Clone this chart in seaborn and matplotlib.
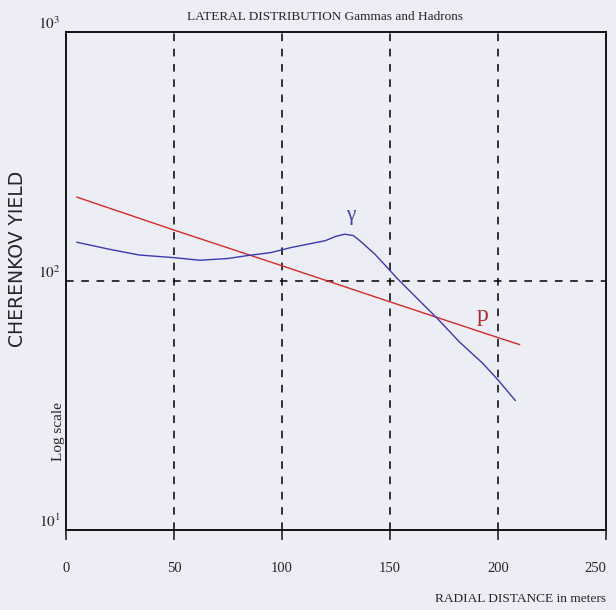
import numpy as np
import pandas as pd
import matplotlib
matplotlib.use("Agg")
import matplotlib.pyplot as plt
import seaborn as sns

# lateral distribution
gamma_r = [5, 20, 34, 50, 62, 75, 83, 95, 104, 113, 120, 125, 129, 133, 136, 143, 150, 153, 162, 172, 182, 193, 200, 208]
gamma_y = [143, 134, 127, 124, 121, 123, 126, 130, 136, 141, 145, 151, 154, 152, 145, 128, 110, 103, 86, 70.5, 57, 46.6, 40, 33.1]
proton_r = [5, 50, 100, 150, 200, 210]
proton_y = [217, 160, 115, 82.4, 59.2, 55.5]

xticks = [0, 50, 100, 150, 200, 250]
yticks = [10, 100, 1000]
ytick_labels = [r"$10^1$", r"$10^2$", r"$10^3$"]

bg = "#EDEDF5"
sns.set_style("white", {"axes.facecolor": bg, "figure.facecolor": bg})
plt.rcParams["font.family"] = ["Liberation Serif", "DejaVu Serif"]
plt.rcParams["mathtext.fontset"] = "stix"

fig = plt.figure(figsize=(6.16, 6.10), dpi=100)
ax = fig.add_axes([0.107, 0.131, 0.877, 0.817])

gamma = pd.DataFrame({"r": gamma_r, "y": gamma_y})
proton = pd.DataFrame({"r": proton_r, "y": proton_y})
sns.lineplot(data=proton, x="r", y="y", color="#D42A2A", lw=1.0, ax=ax)
sns.lineplot(data=gamma, x="r", y="y", color="#3A3AB4", lw=1.0, ax=ax)

ax.set_yscale("log")
ax.set_xlim(0, 250)
ax.set_ylim(10, 1000)

for xv in xticks[1:-1]:
    ax.axvline(xv, color="black", ls=(0, (5, 5)), lw=1.1, zorder=0)
ax.axhline(100, color="black", ls=(0, (5, 5)), lw=1.1, zorder=0)

ax.set_xticks(xticks)
ax.set_xticklabels([str(v) for v in xticks], fontsize=10.5)
ax.get_xticklabels()[-1].set_ha("right")
ax.tick_params(axis="x", direction="out", length=7, width=1.2, pad=16, bottom=True)
ax.set_yticks(yticks)
ax.set_yticklabels(ytick_labels, fontsize=11, va="bottom")
ax.minorticks_off()
ax.tick_params(axis="y", length=0, pad=4)

for s in ax.spines.values():
    s.set_visible(True)
    s.set_color("black")
    s.set_linewidth(1.3)

ax.set_xlabel("")
ax.set_ylabel("")
ax.text(132, 176, "γ", color="#4040B0", fontsize=15, ha="center")
ax.text(193, 69, "p", color="#B02828", fontsize=17, ha="center")

fig.text(0.527, 0.972, "LATERAL DISTRIBUTION Gammas and Hadrons", ha="center", va="center", fontsize=9.5)
fig.text(0.983, 0.018, "RADIAL DISTANCE in meters", ha="right", va="center", fontsize=9.6)
fig.text(0.029, 0.575, "CHERENKOV YIELD", rotation=90, ha="center", va="center", fontsize=13.5,
         family=["DejaVu Sans"])
fig.text(0.095, 0.292, "Log scale", rotation=90, ha="center", va="center", fontsize=11)

fig.savefig("out.png", dpi=100, facecolor=bg)
